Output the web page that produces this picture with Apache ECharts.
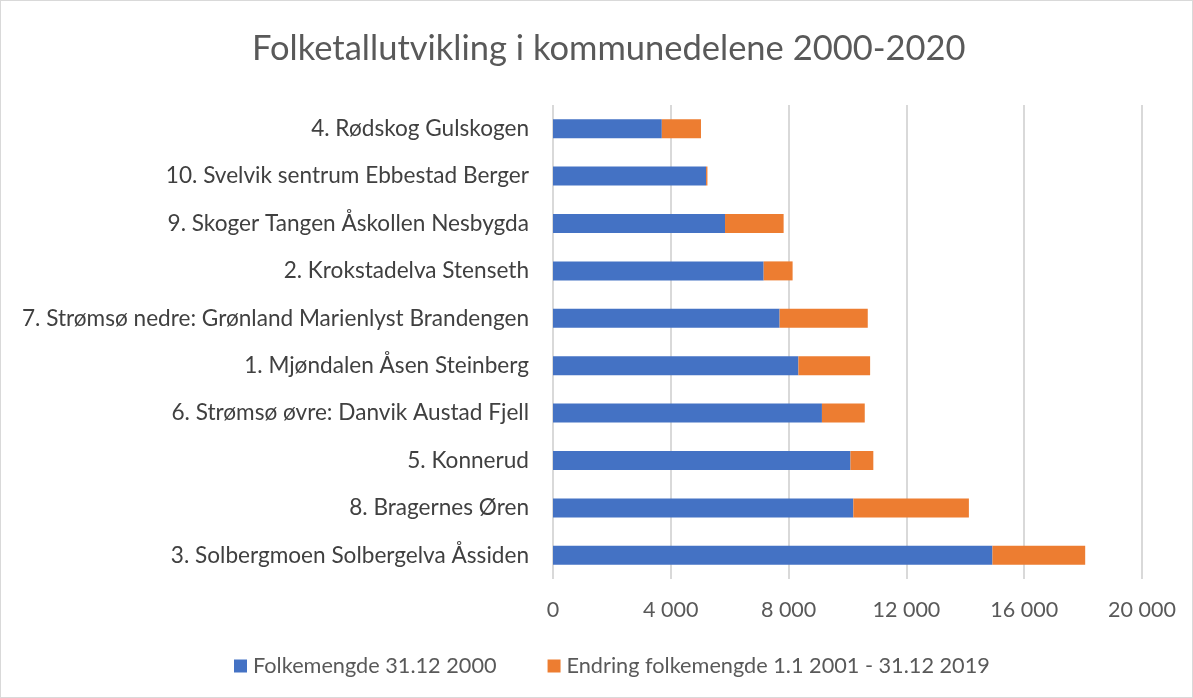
<!DOCTYPE html>
<html>
<head>
<meta charset="utf-8">
<script src="https://cdn.jsdelivr.net/npm/echarts@6/dist/echarts.min.js"></script>
<style>
  html, body { margin: 0; padding: 0; background: #fff; }
  #main { width: 1191px; height: 696px; border: 1px solid #d9d9d9; }
</style>
</head>
<body>
<div id="main"></div>
<script>
// top-to-bottom order as in the picture
const categories = [
  "4. Rødskog Gulskogen",
  "10. Svelvik sentrum Ebbestad Berger",
  "9. Skoger Tangen Åskollen Nesbygda",
  "2. Krokstadelva Stenseth",
  "7. Strømsø nedre: Grønland Marienlyst Brandengen",
  "1. Mjøndalen Åsen Steinberg",
  "6. Strømsø øvre: Danvik Austad Fjell",
  "5. Konnerud",
  "8. Bragernes Øren",
  "3. Solbergmoen Solbergelva Åssiden"
];
const pop2000 = [3695, 5197, 5841, 7153, 7695, 8333, 9132, 10101, 10198, 14922];
const change = [1330, 47, 1990, 983, 2993, 2435, 1454, 776, 3924, 3149];

const seriesNames = ["Folkemengde 31.12 2000", "Endring folkemengde 1.1 2001 - 31.12 2019"];

var myChart = echarts.init(document.getElementById("main"));

var option = {
  animation: false,
  textStyle: { fontFamily: "Lato" },
  title: {
    text: "Folketallutvikling i kommunedelene 2000-2020",
    left: 246,
    top: 25,
    textStyle: {
      fontFamily: "Lato",
      fontSize: 34.5,
      fontWeight: "normal",
      color: "#595959",
    },
  },
  legend: {
    left: 228,
    top: 649,
    itemWidth: 13,
    itemHeight: 13,
    itemGap: 51,
    icon: "rect",
    textStyle: { fontSize: 21.7, color: "#595959", padding: [0, 0, 0, 1] },
    data: seriesNames,
  },
  grid: {
    left: 552,
    right: 50,
    top: 104,
    bottom: 118,
  },
  xAxis: {
    type: "value",
    min: 0,
    max: 20000,
    interval: 4000,
    axisLine: { show: false },
    axisTick: { show: false },
    splitLine: { lineStyle: { color: "#d9d9d9", width: 2 } },
    axisLabel: {
      color: "#595959",
      fontSize: 21.5,
      margin: 20,
      formatter: (v) => (v >= 1000 ? Math.floor(v / 1000) + " " + String(v % 1000).padStart(3, "0") : String(v)),
    },
  },
  yAxis: {
    type: "category",
    inverse: true,
    data: categories,
    axisLine: { show: false },
    axisTick: { show: false },
    axisLabel: { color: "#404040", fontSize: 22.6, margin: 24 },
  },
  series: [
    {
      name: seriesNames[0],
      type: "bar",
      stack: "total",
      barWidth: 19,
      itemStyle: { color: "#4472c4" },
      data: pop2000,
    },
    {
      name: seriesNames[1],
      type: "bar",
      stack: "total",
      barWidth: 19,
      itemStyle: { color: "#ed7d31" },
      data: change,
    },
  ],
};

myChart.setOption(option);
</script>
</body>
</html>
